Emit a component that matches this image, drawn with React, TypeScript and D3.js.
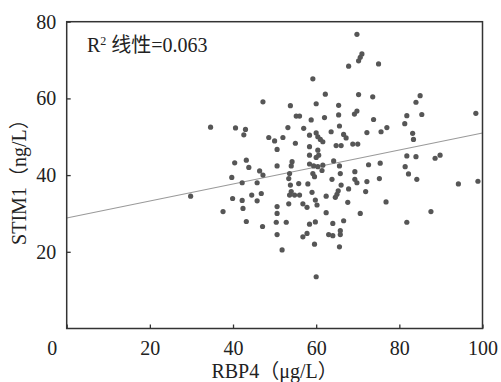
import React, { useRef, useEffect } from 'react';
import * as d3 from 'd3';

// RBP4 (μg/L) values
const RBP4 = [
    34.6, 40.6, 43.0, 42.6, 47.2, 40.4, 43.2, 43.8, 46.4, 47.2, 39.7, 42.2, 45.8, 29.8, 39.9, 42.2,
    44.5, 45.8, 46.8, 37.6, 42.4, 43.2, 47.1,
    69.8, 71.0, 70.6, 70.2, 67.8, 75.0, 59.2, 62.2, 70.2, 73.6, 53.8, 60.0, 65.4, 85.0, 84.0, 85.4,
    81.8, 81.3, 98.4, 55.2, 56.0, 58.8, 62.0, 65.4, 69.2, 69.8, 73.8, 53.2, 57.0, 65.6, 63.6, 60.0,
    58.4, 60.4, 61.0, 61.6, 66.6, 67.2, 72.2, 75.6, 77.0, 48.6, 50.0, 52.0, 50.6, 55.0, 58.4, 60.4,
    58.4, 60.0, 60.6, 64.8, 66.0, 68.8, 70.0, 83.2, 83.4, 81.8, 84.0, 88.6, 89.8, 54.2, 54.0, 50.6,
    58.4, 59.4, 60.4, 61.6, 61.4, 59.2, 59.6, 64.2, 65.6, 65.8, 63.8, 69.3, 69.3, 69.8, 72.6, 75.4,
    75.2, 72.2, 71.9, 67.8, 66.0, 65.3, 65.0, 62.4, 59.0, 58.0, 55.8, 53.6, 53.4, 53.8, 54.0, 53.6,
    54.8, 56.0, 81.4, 82.2, 84.2, 94.2, 98.9, 76.8,
    50.6, 50.6, 50.4, 52.8, 50.6, 51.8, 53.4, 56.8, 57.8, 59.8, 60.2, 62.4, 58.4, 59.8, 56.8, 57.8,
    59.6, 60.0, 63.0, 64.0, 64.0, 65.8, 65.8, 65.6, 66.6, 64.6, 67.6, 70.6, 81.8, 87.6
];

// STIM1 (ng/L) values, same order
const STIM1 = [
    52.5, 52.3, 51.9, 50.5, 59.1, 43.2, 43.9, 42.0, 41.1, 40.0, 39.4, 38.0, 38.0, 34.5, 33.9, 33.4,
    34.8, 33.3, 35.2, 30.5, 31.3, 27.9, 26.6,
    76.7, 71.6, 70.7, 69.8, 68.4, 69.0, 65.1, 61.1, 61.0, 60.4, 58.1, 58.6, 58.2, 60.7, 59.0, 55.8,
    55.5, 53.4, 56.1, 55.4, 55.4, 54.4, 55.0, 55.7, 55.9, 56.7, 54.5, 52.4, 52.2, 52.8, 51.3, 51.0,
    50.4, 50.0, 49.3, 48.7, 50.6, 49.7, 51.1, 51.3, 52.4, 49.8, 48.9, 49.8, 46.7, 48.3, 47.4, 46.5,
    45.2, 44.6, 45.2, 47.7, 47.7, 48.1, 48.1, 50.9, 49.3, 45.0, 44.8, 44.4, 45.2, 43.5, 42.4, 42.4,
    42.9, 42.4, 42.2, 42.6, 41.2, 40.4, 39.6, 43.7, 42.4, 40.4, 38.9, 40.9, 38.9, 38.0, 42.7, 43.1,
    39.1, 38.3, 35.7, 36.4, 37.4, 35.9, 35.0, 34.5, 35.5, 37.7, 37.8, 40.4, 39.1, 37.4, 35.7, 34.8,
    34.8, 34.8, 42.2, 40.3, 38.9, 37.7, 38.4, 33.0,
    31.8, 30.0, 27.7, 27.7, 24.5, 20.5, 32.5, 32.5, 31.6, 33.5, 32.2, 30.2, 27.2, 27.8, 23.9, 24.8,
    22.0, 13.5, 24.5, 24.2, 27.4, 25.5, 24.5, 21.3, 28.1, 34.2, 32.9, 30.0, 27.7, 30.5
];

// linear fit shown in the chart: [RBP4, STIM1] at both ends
const FIT_LINE = [[0, 28.8], [100, 51.0]];
const X_TICKS = [0, 20, 40, 60, 80, 100];
const Y_TICKS = [20, 40, 60, 80];
const R2_LABEL = "0.063";

const FONT = '"Liberation Serif", "Times New Roman", "Noto Sans CJK SC", serif';

function App() {
    const svgRef = useRef(null);
    const W = 501;
    const H = 382;
    const margin = { top: 21.7, right: 18.5, bottom: 53.5, left: 66.7 };
    const width = W - margin.left - margin.right;
    const height = H - margin.top - margin.bottom;

    useEffect(() => {
        const svg = d3.select(svgRef.current);
        svg.selectAll("*").remove();

        const xScale = d3.scaleLinear().domain([0, 100]).range([0, width]);
        const yScale = d3.scaleLinear().domain([0, 80]).range([height, 0]);

        const g = svg.append("g").attr("transform", `translate(${margin.left}, ${margin.top})`);

        g.append("rect")
            .attr("width", width)
            .attr("height", height)
            .attr("fill", "#fff");

        // fitted line
        g.append("path")
            .datum(FIT_LINE)
            .attr("fill", "none")
            .attr("stroke", "#9a9a9a")
            .attr("stroke-width", 1.1)
            .attr("d", d3.line().x(d => xScale(d[0])).y(d => yScale(d[1])));

        // points
        g.selectAll("circle")
            .data(RBP4.map((v, i) => [v, STIM1[i]]))
            .enter()
            .append("circle")
            .attr("cx", d => xScale(d[0]))
            .attr("cy", d => yScale(d[1]))
            .attr("r", 2.6)
            .attr("fill", "#565656");

        const xAxis = g.append("g")
            .attr("transform", `translate(0, ${height})`)
            .call(d3.axisBottom(xScale).tickValues(X_TICKS).tickSizeInner(-4).tickSizeOuter(0).tickPadding(12));
        xAxis.select(".domain").remove();
        // the origin label sits left of the corner
        xAxis.selectAll(".tick text").filter(d => d === 0).attr("dx", -15);

        const yAxis = g.append("g")
            .call(d3.axisLeft(yScale).tickValues(Y_TICKS).tickSizeInner(-4).tickSizeOuter(0).tickPadding(10.5));
        yAxis.select(".domain").remove();

        [xAxis, yAxis].forEach(a => {
            a.selectAll(".tick line").attr("stroke", "#333").attr("stroke-width", 1.3);
            a.selectAll(".tick text")
                .attr("font-family", FONT)
                .attr("font-size", 20)
                .attr("fill", "#222");
        });

        // frame
        g.append("rect")
            .attr("width", width)
            .attr("height", height)
            .attr("fill", "none")
            .attr("stroke", "#333")
            .attr("stroke-width", 1.5);

        const r2 = g.append("text")
            .attr("x", 20.3)
            .attr("y", 30)
            .attr("font-family", FONT)
            .attr("font-size", 20)
            .attr("fill", "#222");
        r2.append("tspan").text("R");
        r2.append("tspan").attr("dy", -7).attr("font-size", 12).text("2");
        r2.append("tspan").attr("dy", 7).text(` 线性=${R2_LABEL}`);

        svg.append("text")
            .attr("x", margin.left + width / 2)
            .attr("y", 378)
            .attr("text-anchor", "middle")
            .attr("font-family", FONT)
            .attr("font-size", 20)
            .attr("fill", "#222")
            .text("RBP4（μg/L）");

        svg.append("text")
            .attr("transform", `translate(26, ${margin.top + height / 2 + 2}) rotate(-90)`)
            .attr("text-anchor", "middle")
            .attr("font-family", FONT)
            .attr("font-size", 20)
            .attr("fill", "#222")
            .text("STIM1（ng/L）");
    }, []);

    return (
        <svg
            ref={svgRef}
            width={W}
            height={H}
            style={{ position: "fixed", left: 0, top: 0, background: "#fff" }}
        />
    );
}

export default App;
